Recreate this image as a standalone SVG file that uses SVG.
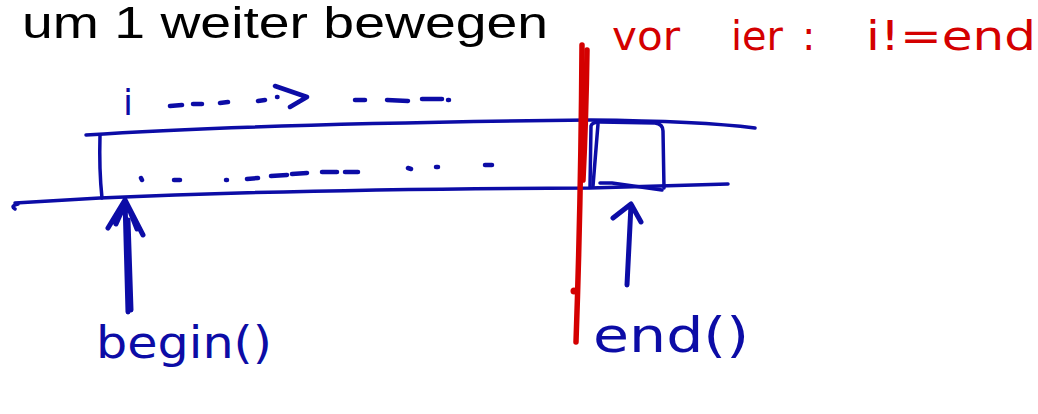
<svg xmlns="http://www.w3.org/2000/svg" width="1038" height="414" viewBox="0 0 1038 414">
  <style>
    .ink { fill: none; stroke: #0c0ca6; stroke-linecap: round; stroke-linejoin: round; }
    .thin { stroke-width: 3.5; }
    .thick { stroke-width: 5; }
    .dash { stroke-width: 4.5; }
    .red { fill: none; stroke: #d40000; stroke-linecap: round; stroke-width: 5.5; }
    .hand { font-family: "DejaVu Sans", "Noto Sans", sans-serif; }
    .blue { fill: #0c0ca6; }
    .redt { fill: #d40000; }
  </style>
  <rect width="1038" height="414" fill="#ffffff"/>

  <!-- heading -->
  <text id="title" x="22" y="38" font-family="'Liberation Sans', 'DejaVu Sans', sans-serif" font-size="44" fill="#000000" textLength="526" lengthAdjust="spacingAndGlyphs">um 1 weiter bewegen</text>

  <!-- red annotation -->
  <text id="condition" class="hand redt" y="50" font-size="40">
    <tspan x="612" textLength="68" lengthAdjust="spacingAndGlyphs">vor</tspan>
    <tspan x="731" textLength="52" lengthAdjust="spacingAndGlyphs">ier</tspan>
    <tspan x="802">:</tspan>
    <tspan x="866" textLength="170" lengthAdjust="spacingAndGlyphs">i!=end</tspan>
  </text>

  <!-- the container strip -->
  <g id="container">
    <path class="ink thin" d="M86,135 Q250,124 590,120 Q700,121 755,128"/>
    <path class="ink thin" d="M18,204 Q10,206 15,209 M15,203 L100,198 Q300,189 590,188 L728,184"/>
    <path class="ink thin" d="M100,135 Q99,170 102,198"/>
  </g>

  <!-- past-the-end slot -->
  <g id="end-slot">
    <path class="ink thin" d="M590,187 L591,126 Q592,122 600,122 L655,123 Q663,124 663,131 L664,188"/>
    <path class="ink thin" d="M598,124 L593,186"/>
    <path class="ink thin" d="M600,183 L612,183 L662,190"/>
  </g>

  <!-- iterator moving along the strip -->
  <g id="iterator">
    <text class="hand blue" x="123" y="115" font-size="36">i</text>
    <path class="ink dash" d="M170,106 L182,105 M193,104 L202,104 M220,103 L228,102 M258,101 L265,100 M277,97 L277.5,97 M275,86 L307,97 L290,107 M355,100 L365,100 M387,100 L408,101 M422,99 L442,99 M448,100 L449,100"/>
    <path class="ink dash" d="M141,178 L142,180 M174,180 L180,180 M226,180 L227,180 M247,179 L258,178 M271,176 L287,175 M292,174 L307,173 M322,172 L337,172 M345,172 L358,172 M408,168 L411,169 M436,167 L438,167 M485,165 L492,165"/>
  </g>

  <!-- boundary -->
  <g id="boundary">
    <path class="red" d="M582,45 Q581,200 576,342"/>
    <path class="red" d="M587,50 Q586,120 583,180" stroke-width="4"/>
    <circle cx="574" cy="291" r="3.5" fill="#d40000"/>
  </g>

  <!-- pointers -->
  <g id="connectors">
    <path class="ink thick" d="M128,312 L125,200 M125,200 L108,228 M125,200 L143,235 M124,206 L116,224 M128,206 L137,229 M131,310 L128,220"/>
    <path class="ink thick" d="M627,285 L631,205 M631,204 L613,218 M631,204 L641,222"/>
  </g>

  <g id="begin-label">
    <text class="hand blue" x="96" y="358" font-size="44" textLength="176" lengthAdjust="spacingAndGlyphs">begin()</text>
  </g>
  <g id="end-label">
    <text class="hand blue" x="593" y="352" font-size="48" textLength="156" lengthAdjust="spacingAndGlyphs">end()</text>
  </g>
</svg>
